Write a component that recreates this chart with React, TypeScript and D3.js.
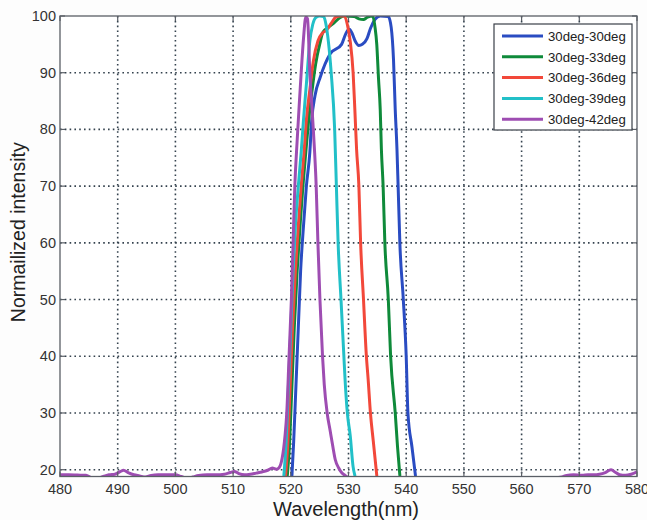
import React from "react";
import * as d3 from "d3";

const xTicks = [480, 490, 500, 510, 520, 530, 540, 550, 560, 570, 580];
const yTicks = [20, 30, 40, 50, 60, 70, 80, 90, 100];

const seriesNames = ["30deg-30deg", "30deg-33deg", "30deg-36deg", "30deg-39deg", "30deg-42deg"];
const seriesColors = ["#2a4cc2", "#0f8a3a", "#f2483a", "#22c0c8", "#9e4db2"];

const wl30 = [520.2, 520.5, 520.9, 521.3, 521.7, 522.2, 522.7, 523.3, 523.6, 524.2, 525.1, 526.8, 528.8, 529.5, 530.1, 530.6, 531.2, 531.8, 532.4, 533.2, 533.8, 534.6, 535.5, 536.9, 537.4, 537.8, 538.1, 538.4, 538.6, 538.9, 539.5, 540.0, 540.3, 541.0, 541.6];
const v30 = [19, 25, 35, 45, 55, 63, 70, 76, 81.3, 86, 89.2, 93.3, 95, 96.8, 97.7, 97, 95.5, 94.8, 95, 96, 97.8, 99.4, 100, 99.9, 98, 92.3, 83.5, 76.5, 70, 60, 50, 40, 30, 24, 19];

const wl33 = [519.4, 519.8, 520.2, 520.6, 521.1, 521.6, 522.1, 522.6, 523.1, 523.7, 524.3, 525.0, 525.6, 526.5, 527.5, 528.5, 529.3, 531.0, 531.8, 532.6, 533.3, 534.2, 534.6, 534.9, 535.2, 535.5, 535.7, 536.0, 536.3, 536.9, 537.3, 538.1, 538.5, 538.9];
const v33 = [19, 25, 35, 45, 55, 63, 70, 76, 81.7, 87, 91.5, 95, 97.2, 98, 98.8, 99.7, 100, 99.9, 99.5, 99.4, 99.8, 100, 98, 95, 89, 83.5, 76.5, 70, 60, 50, 40, 30, 24, 19];

const wl36 = [519.1, 519.5, 519.9, 520.3, 520.8, 521.3, 521.8, 522.3, 522.7, 523.3, 523.9, 524.7, 525.5, 526.2, 527.0, 527.8, 528.5, 529.3, 529.8, 530.3, 530.8, 531.1, 531.4, 531.8, 532.1, 532.6, 533.1, 533.4, 533.8, 534.3, 534.9];
const v36 = [19, 25, 35, 45, 55, 63, 70, 76, 81.7, 87, 92, 95.6, 97, 97.5, 98.7, 99.8, 100, 100, 98.5, 95.5, 90, 83.5, 76.5, 70, 60, 50, 40, 36, 30, 25, 19];

const wl39 = [518.8, 519.2, 519.6, 520.0, 520.4, 520.8, 521.3, 521.8, 522.2, 522.7, 523.3, 523.8, 524.4, 525.0, 525.7, 526.1, 526.5, 527.0, 527.6, 527.9, 528.2, 528.7, 529.2, 529.4, 529.8, 530.3, 530.8, 531.1];
const v39 = [19, 25, 35, 45, 55, 63, 70, 76, 81.7, 88, 95.6, 98.5, 99.8, 100, 99.9, 98.5, 95.6, 90, 80, 70, 60, 50, 40, 36, 30, 26, 20.5, 19];

const wl42 = [480, 481.5, 483, 484.5, 485.5, 486.5, 487.5, 488.5, 489.5, 490.5, 491, 491.8, 492.8, 493.8, 494.8, 495.8, 497, 498.5, 500, 501, 502, 503, 504, 505.5, 507, 508.5, 509.5, 510.2, 511, 512, 513, 514, 515, 516, 516.8, 517.5, 518, 518.5, 519, 519.3, 519.7, 520.1, 520.4, 520.7, 521.1, 521.5, 521.8, 522.2, 522.6, 522.9, 523.3, 523.9, 524.4, 524.7, 525.05, 525.5, 525.8, 526.3, 526.8, 527.3, 527.7, 528.3, 528.8, 529.4, 530, 535, 545, 555, 565, 567, 567.8, 569, 570.5, 571.5, 572.5, 573.5, 574.5, 575.5, 576.3, 577, 578, 579, 580];
const v42 = [19.1, 19.1, 19.05, 19.0, 18.6, 18.5, 18.8, 19.1, 19.2, 19.7, 19.9, 19.5, 19.1, 18.9, 18.7, 19.0, 19.1, 19.1, 19.1, 18.8, 18.5, 18.7, 19.0, 19.1, 19.1, 19.2, 19.5, 19.7, 19.3, 19.1, 19.2, 19.4, 19.6, 19.9, 20.3, 20.1, 20.4, 22, 26, 30, 40, 50, 60, 70, 78, 85, 90, 96, 99.8, 99.5, 90, 80, 70, 60, 50, 40, 35, 30, 27, 24, 21.8, 20.3, 19.5, 19.0, 18.6, 18.4, 18.4, 18.4, 18.5, 18.7, 19.0, 19.1, 19.0, 19.1, 19.1, 19.2, 19.5, 20.0, 19.5, 19.1, 19.0, 19.2, 19.6];

const seriesWl = [wl30, wl33, wl36, wl39, wl42];
const seriesVal = [v30, v33, v36, v39, v42];

const W = 647;
const H = 520;
const left = 60;
const right = 637;
const top = 16;
const bottom = 476.5;

export default function App() {
  const x = d3.scaleLinear().domain([480, 580]).range([left, right]);
  const y = d3.scaleLinear().domain([18.8, 100]).range([bottom, top]);
  const line = d3
    .line<[number, number]>()
    .x((d) => x(d[0]))
    .y((d) => y(d[1]))
    .curve(d3.curveMonotoneX);

  const gridColor = "#34424e";
  const axisColor = "#5a5f66";
  const font = "Arial, 'Liberation Sans', sans-serif";

  const legX = 494;
  const legY = 24;
  const legW = 138;
  const legH = 106;

  return (
    <svg
      width={W}
      height={H}
      style={{ position: "absolute", left: 0, top: 0, background: "#fdfdfd" }}
      fontFamily={font}
    >
      <defs>
        <clipPath id="plotclip">
          <rect x={left} y={top} width={right - left} height={bottom - top} />
        </clipPath>
      </defs>
      <rect x={left} y={top} width={right - left} height={bottom - top} fill="#ffffff" />
      {xTicks.slice(1, -1).map((t) => (
        <line
          key={"gx" + t}
          x1={x(t)}
          x2={x(t)}
          y1={top}
          y2={bottom}
          stroke={gridColor}
          strokeWidth={1.6}
          strokeDasharray="1.6,3.2"
        />
      ))}
      {yTicks.slice(0, -1).map((t) => (
        <line
          key={"gy" + t}
          x1={left}
          x2={right}
          y1={y(t)}
          y2={y(t)}
          stroke={gridColor}
          strokeWidth={1.6}
          strokeDasharray="1.6,3.2"
        />
      ))}
      <g clipPath="url(#plotclip)">
        {seriesWl.map((wl, i) => (
          <path
            key={"s" + i}
            d={line(wl.map((w, j) => [w, seriesVal[i][j]] as [number, number])) || ""}
            fill="none"
            stroke={seriesColors[i]}
            strokeWidth={3}
            strokeLinejoin="round"
            strokeLinecap="round"
          />
        ))}
      </g>
      <rect x={left} y={top} width={right - left} height={bottom - top} fill="none" stroke={axisColor} strokeWidth={1.3} />
      {xTicks.map((t) => (
        <g key={"tx" + t}>
          <line x1={x(t)} x2={x(t)} y1={bottom} y2={bottom - 5} stroke={axisColor} strokeWidth={1.2} />
          <line x1={x(t)} x2={x(t)} y1={top} y2={top + 5} stroke={axisColor} strokeWidth={1.2} />
          <text x={x(t)} y={bottom + 17.5} textAnchor="middle" fontSize={14.5} fill="#333">
            {t}
          </text>
        </g>
      ))}
      {yTicks.map((t) => (
        <g key={"ty" + t}>
          <line x1={left} x2={left + 5} y1={y(t)} y2={y(t)} stroke={axisColor} strokeWidth={1.2} />
          <line x1={right} x2={right - 5} y1={y(t)} y2={y(t)} stroke={axisColor} strokeWidth={1.2} />
          <text x={left - 4} y={y(t) + 5} textAnchor="end" fontSize={14.5} fill="#333">
            {t}
          </text>
        </g>
      ))}
      <text x={346} y={516} textAnchor="middle" fontSize={20} fill="#222">
        Wavelength(nm)
      </text>
      <text
        transform={`translate(25, ${(top + bottom) / 2 - 14}) rotate(-90)`}
        textAnchor="middle"
        fontSize={19.5}
        fill="#222"
      >
        Normailized intensity
      </text>
      <rect x={legX} y={legY} width={legW} height={legH} fill="#ffffff" stroke="#3a4048" strokeWidth={1.2} />
      {seriesNames.map((name, i) => {
        const cy = legY + 12 + i * 20.8;
        return (
          <g key={"lg" + i}>
            <line x1={502} x2={543} y1={cy} y2={cy} stroke={seriesColors[i]} strokeWidth={3} />
            <text x={548} y={cy + 4.7} fontSize={13.2} fill="#222">
              {name}
            </text>
          </g>
        );
      })}
    </svg>
  );
}
